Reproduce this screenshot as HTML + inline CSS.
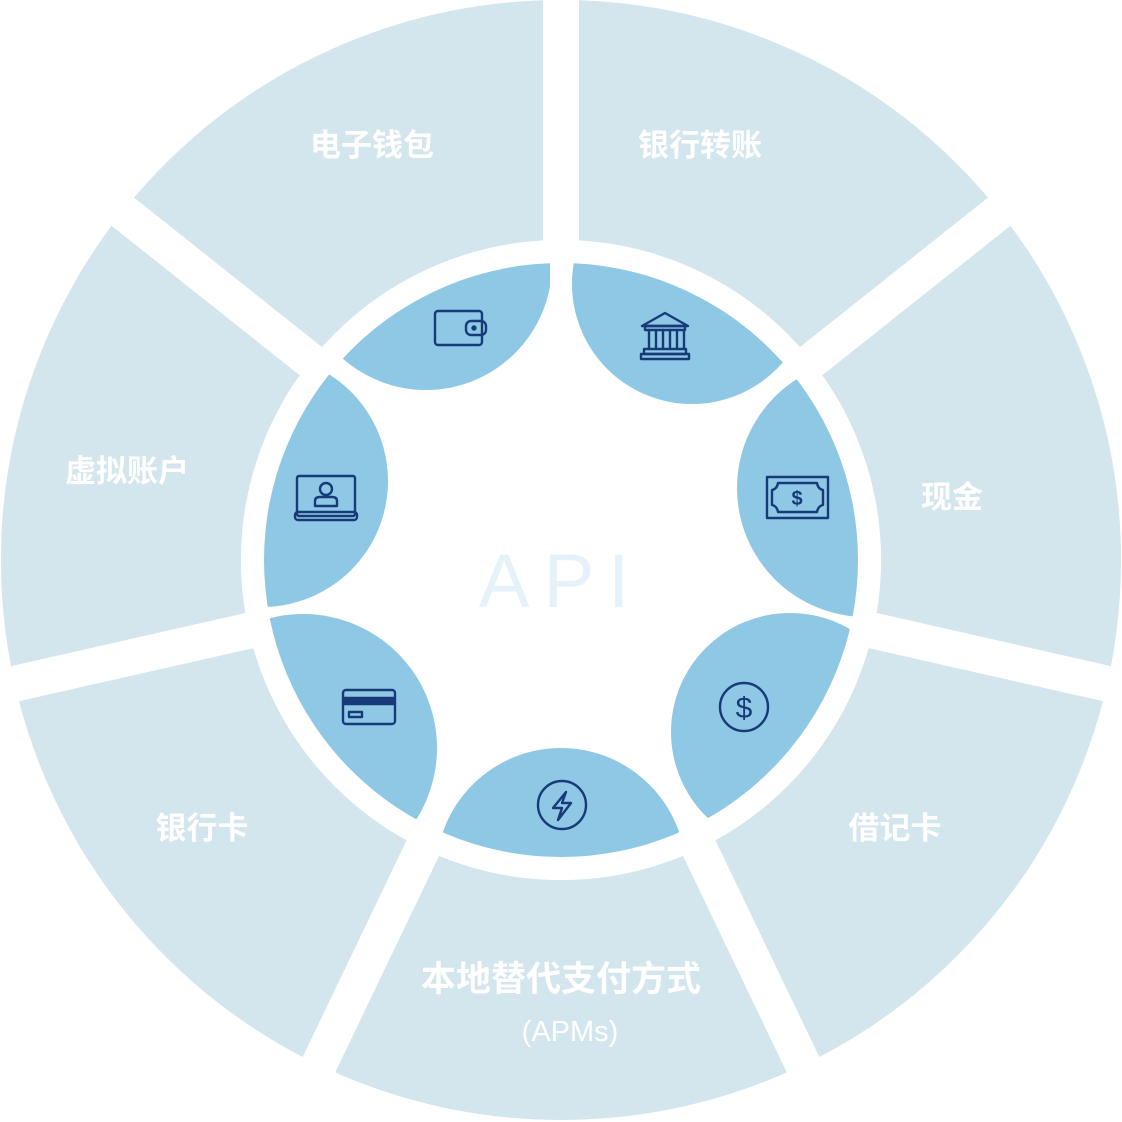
<!DOCTYPE html>
<html><head><meta charset="utf-8"><style>
html,body{margin:0;padding:0;background:#fff;}
svg{display:block}
.lb{font-family:"Liberation Sans","Noto Sans CJK SC",sans-serif;font-weight:bold;font-size:31px;fill:#fff;text-anchor:middle}
.ic{fill:none;stroke:#173a78;stroke-width:2.4;stroke-linejoin:round;stroke-linecap:round}
</style></head><body>
<svg width="1122" height="1122" viewBox="0 0 1122 1122" xmlns="http://www.w3.org/2000/svg">
<defs>
<clipPath id="disk"><circle cx="561" cy="560" r="297"/></clipPath>
<clipPath id="wc"><rect x="0" y="0" width="550" height="600"/></clipPath>
</defs>
<circle cx="561" cy="560" r="440" fill="none" stroke="#d3e5ed" stroke-width="240"/>
<g stroke="#fff" stroke-width="36">
<line x1="561" y1="560" x2="561" y2="-20"/>
<line x1="561" y1="560" x2="1029" y2="188"/>
<line x1="561" y1="560" x2="1144" y2="692"/>
<line x1="561" y1="560" x2="820" y2="1100"/>
<line x1="561" y1="560" x2="302" y2="1100"/>
<line x1="561" y1="560" x2="-22" y2="692"/>
<line x1="561" y1="560" x2="93" y2="188"/>
</g>
<circle cx="561" cy="560" r="320" fill="#fff"/>
<g clip-path="url(#disk)" fill="#8fc8e4">
<circle cx="426" cy="264" r="126" clip-path="url(#wc)"/>
<circle cx="692" cy="284" r="120"/>
<circle cx="866" cy="488" r="129"/>
<circle cx="790" cy="732" r="119"/>
<circle cx="561" cy="873" r="125"/>
<circle cx="303" cy="748" r="134"/>
<circle cx="262" cy="481" r="126"/>
</g>
<text x="561" y="607" font-family="Liberation Sans,sans-serif" font-size="76" fill="#e6f2fa" text-anchor="middle" letter-spacing="14">API</text>
<text class="lb" x="372" y="156">电子钱包</text>
<text class="lb" x="700" y="156">银行转账</text>
<text class="lb" x="952" y="508">现金</text>
<text class="lb" x="127" y="482">虚拟账户</text>
<text class="lb" x="202" y="839">银行卡</text>
<text class="lb" x="895" y="839">借记卡</text>
<text class="lb" x="561" y="991" style="font-size:35px">本地替代支付方式</text>
<text class="lb" x="570" y="1041" style="font-weight:normal;font-size:29px">(APMs)</text>
<g class="ic">
<rect x="435" y="311" width="47" height="34" rx="3"/>
<rect x="466" y="321" width="20" height="14" rx="5"/>
<circle cx="474" cy="328" r="1.5" fill="#173a78"/>
<path d="M642 326 L665 313 L688 326 Z"/>
<rect x="645" y="326" width="40" height="4"/>
<path d="M649 330 V349 M656 330 V349 M663 330 V349 M670 330 V349 M677 330 V349 M684 330 V349"/>
<rect x="644" y="349" width="42" height="5"/>
<rect x="641" y="354" width="48" height="5"/>
<rect x="767" y="477" width="61" height="41"/>
<path d="M778 483 H817 Q818 489 823 490 V505 Q818 506 817 512 H778 Q777 506 772 505 V490 Q777 489 778 483Z"/>
<text x="797" y="505" font-family="Liberation Sans,sans-serif" font-size="20" font-weight="bold" fill="#173a78" stroke="none" text-anchor="middle">$</text>
<rect x="297" y="476" width="58" height="40" rx="2"/>
<rect x="295" y="512" width="62" height="8" rx="3"/>
<circle cx="326" cy="489" r="6"/>
<path d="M315 506 V501 Q315 497 320 497 H332 Q337 497 337 501 V506 Z"/>
<rect x="343" y="690" width="52" height="34" rx="3"/>
<rect x="344" y="698" width="50" height="6" fill="#173a78"/>
<rect x="349" y="712" width="13" height="5"/>
<circle cx="744" cy="707" r="24"/>
<text x="744" y="718" font-family="Liberation Sans,sans-serif" font-size="30" fill="#173a78" stroke="none" text-anchor="middle">$</text>
<circle cx="562" cy="805" r="24"/>
<path d="M566 792 L553 808 H562 L558 820 L571 803 H562 Z"/>
</g>
</svg>
</body></html>
